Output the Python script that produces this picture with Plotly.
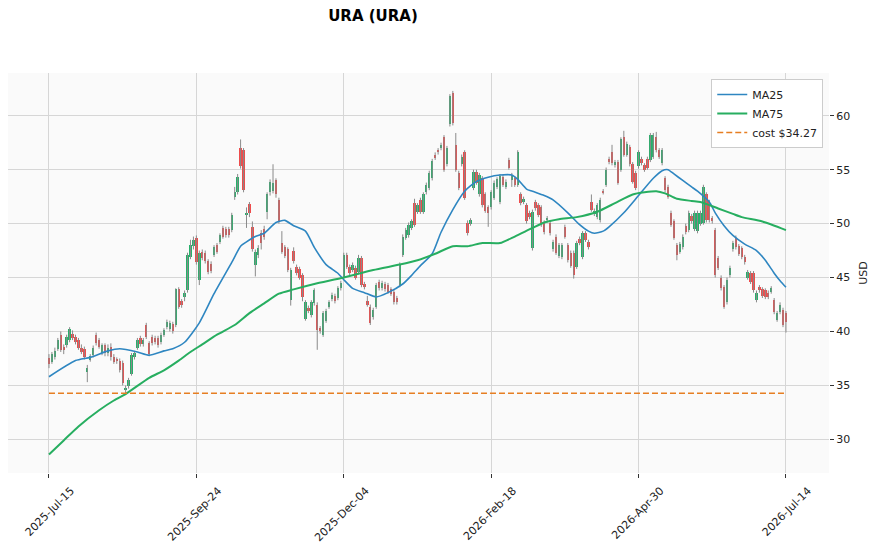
import plotly.graph_objects as go

# ---------------- data ----------------
tick_pos = [0, 50, 100, 150, 200, 250]
tick_labels = ["2025-Jul-15", "2025-Sep-24", "2025-Dec-04", "2026-Feb-18", "2026-Apr-30", "2026-Jul-14"]

opens = [37.5, 37.2, 37.6, 38.4, 39.7, 38.6, 38.7, 39.2, 39.8, 39.5,
         39.2, 38.5, 38.4, 36.2, 37.4, 37.8, 39.7, 39.2, 38.0, 38.7,
         38.0, 38.6, 37.6, 37.4, 37.3, 37.1, 34.6, 34.9, 36.1, 37.6,
         38.5, 39.4, 38.8, 40.6, 38.9, 39.5, 39.4, 39.4, 39.0, 39.7,
         40.4, 40.2, 40.7, 40.6, 43.9, 42.8, 43.2, 43.8, 46.9, 47.9,
         48.7, 44.8, 47.4, 47.3, 46.5, 46.3, 47.1, 48.0, 48.3, 49.6,
         49.5, 49.5, 49.4, 52.5, 52.9, 57.0, 56.8, 50.8, 51.8, 49.7,
         46.2, 47.1, 49.1, 49.5, 51.1, 52.9, 53.0, 54.0, 52.2, 48.2,
         47.8, 47.6, 42.9, 47.5, 46.0, 45.8, 45.2, 41.2, 42.2, 41.5,
         42.6, 42.5, 40.3, 39.7, 41.0, 42.3, 43.0, 43.3, 43.1, 44.0,
         45.0, 47.1, 46.0, 45.7, 45.9, 45.5, 46.8, 44.4, 42.8, 42.3,
         41.3, 42.3, 44.6, 44.0, 44.4, 44.3, 43.9, 43.7, 43.1, 44.3,
         47.1, 48.7, 48.9, 49.6, 51.9, 51.1, 52.2, 51.1, 52.9, 53.3,
         54.2, 56.4, 56.8, 57.0, 58.0, 55.5, 59.2, 62.1, 57.3, 54.7,
         55.5, 56.6, 50.1, 50.0, 53.3, 54.8, 52.7, 54.2, 52.7, 51.5,
         51.5, 52.4, 53.4, 52.0, 54.3, 53.4, 55.9, 54.0, 54.2, 53.6,
         52.7, 52.0, 51.7, 51.0, 47.7, 52.0, 51.7, 51.5, 50.1, 50.3,
         50.1, 47.6, 48.8, 47.0, 46.9, 49.7, 48.0, 47.3, 47.3, 46.0,
         48.6, 46.9, 49.1, 48.3, 52.0, 50.9, 50.6, 50.3, 53.0, 53.6,
         56.0, 56.6, 55.4, 55.7, 55.0, 58.0, 56.4, 57.1, 55.5, 54.7,
         55.3, 56.0, 55.4, 56.0, 55.9, 56.2, 58.0, 56.8, 55.6, 54.2,
         53.4, 51.0, 50.2, 48.0, 47.4, 47.8, 49.8, 49.4, 50.7, 49.5,
         49.3, 50.0, 50.1, 52.7, 52.0, 50.5, 49.4, 46.8, 45.0, 44.1,
         42.7, 45.2, 47.6, 48.7, 47.9, 47.7, 46.9, 45.0, 45.4, 45.4,
         42.9, 44.1, 43.9, 43.8, 43.6, 43.7, 42.9, 41.1, 41.8, 42.0,
         41.7]

closes = [37.0, 37.9, 38.2, 39.2, 38.3, 38.3, 39.5, 40.2, 39.4, 39.0,
          38.5, 38.1, 37.6, 36.6, 37.7, 38.5, 38.9, 38.6, 38.7, 38.0,
          38.5, 37.6, 37.2, 37.3, 36.4, 35.2, 34.8, 35.5, 37.8, 38.0,
          39.2, 38.8, 39.2, 39.5, 37.9, 38.9, 39.0, 38.7, 39.7, 40.1,
          40.9, 40.8, 40.0, 43.9, 42.3, 42.5, 43.6, 47.1, 48.0, 48.5,
          46.4, 47.3, 46.8, 46.5, 45.5, 45.6, 47.8, 47.4, 48.9, 48.8,
          48.9, 48.9, 50.8, 52.9, 54.3, 55.3, 53.1, 51.0, 51.0, 47.6,
          47.4, 47.7, 48.2, 48.8, 52.7, 53.9, 53.8, 52.7, 50.2, 47.4,
          47.0, 45.7, 45.7, 46.5, 45.4, 45.0, 43.2, 42.7, 41.9, 42.7,
          43.8, 40.1, 40.0, 41.7, 41.9, 42.7, 43.4, 42.8, 44.0, 44.5,
          47.1, 46.0, 45.4, 46.2, 45.0, 46.8, 44.3, 44.1, 42.5, 40.8,
          42.0, 44.3, 44.0, 44.5, 43.9, 43.7, 43.5, 42.7, 42.7, 46.2,
          48.8, 49.4, 49.9, 50.2, 49.9, 51.7, 51.1, 52.7, 53.6, 54.7,
          55.8, 56.1, 56.6, 57.3, 55.0, 57.0, 61.8, 59.3, 55.0, 53.3,
          56.2, 52.4, 49.1, 50.3, 54.8, 53.8, 54.5, 51.7, 51.2, 51.0,
          52.9, 53.8, 54.1, 54.4, 53.6, 53.9, 55.2, 54.5, 53.6, 56.6,
          51.9, 52.3, 50.2, 50.6, 51.1, 51.4, 50.8, 50.1, 49.2, 50.5,
          49.1, 48.3, 47.3, 48.0, 48.0, 48.8, 46.6, 46.1, 45.2, 48.2,
          48.2, 49.1, 48.5, 47.8, 51.3, 51.2, 51.7, 52.2, 52.9, 55.0,
          55.7, 55.6, 55.7, 53.8, 57.8, 56.4, 57.4, 55.5, 53.9, 53.3,
          56.6, 55.6, 55.0, 55.2, 58.2, 58.2, 56.8, 56.2, 56.8, 53.1,
          52.5, 49.9, 48.7, 47.1, 48.1, 48.8, 49.2, 51.0, 50.2, 51.0,
          51.0, 51.0, 53.4, 50.3, 50.3, 50.2, 45.2, 45.9, 44.0, 42.3,
          44.8, 45.9, 48.2, 47.8, 47.2, 46.9, 46.4, 45.5, 44.6, 43.8,
          43.6, 43.8, 43.3, 43.2, 43.2, 44.0, 41.8, 41.7, 42.5, 40.6,
          40.9]

highs = [37.9, 38.1, 38.5, 39.4, 40.0, 38.8, 39.7, 40.4, 40.1, 39.7,
         39.4, 38.8, 38.6, 36.9, 37.9, 38.7, 39.9, 39.4, 38.9, 38.9,
         38.8, 38.9, 37.9, 37.6, 37.5, 37.3, 35.0, 35.7, 38.0, 38.2,
         39.4, 39.6, 39.4, 40.8, 39.1, 39.7, 39.6, 39.6, 39.9, 40.3,
         41.1, 41.0, 40.9, 44.0, 44.1, 43.0, 43.8, 47.3, 48.5, 48.8,
         48.9, 47.5, 47.6, 47.5, 46.7, 46.5, 48.0, 48.2, 49.1, 49.8,
         49.7, 49.7, 51.0, 53.4, 54.6, 57.8, 57.0, 51.5, 52.0, 50.2,
         47.6, 48.0, 49.4, 49.8, 52.9, 54.1, 55.5, 54.2, 52.4, 49.3,
         48.0, 47.8, 45.9, 47.8, 46.2, 46.0, 45.4, 42.9, 42.4, 42.9,
         44.0, 42.7, 40.5, 41.9, 42.1, 42.9, 43.6, 43.5, 44.2, 44.7,
         47.3, 47.3, 46.2, 46.4, 46.1, 47.1, 47.0, 44.6, 43.3, 42.5,
         42.2, 44.5, 44.8, 44.7, 44.6, 44.5, 44.1, 43.9, 43.3, 46.4,
         49.0, 49.6, 50.1, 50.4, 52.3, 51.9, 52.4, 52.9, 53.8, 54.9,
         56.0, 56.6, 57.0, 57.5, 58.2, 57.2, 62.0, 62.3, 58.4, 54.9,
         56.4, 56.8, 50.3, 50.5, 55.0, 55.0, 54.7, 54.4, 52.9, 51.7,
         53.1, 54.0, 54.3, 54.6, 54.5, 54.1, 56.1, 54.7, 54.4, 56.8,
         52.9, 52.5, 51.9, 51.2, 51.3, 52.2, 51.9, 51.7, 50.3, 50.7,
         50.3, 48.5, 49.0, 48.2, 48.2, 49.9, 48.2, 47.5, 47.5, 48.4,
         48.8, 49.3, 49.3, 48.5, 52.7, 51.4, 51.9, 52.4, 53.2, 55.2,
         56.2, 57.3, 55.9, 55.9, 58.0, 58.6, 57.6, 57.3, 55.7, 54.9,
         56.8, 56.2, 55.6, 56.2, 58.4, 58.4, 58.5, 57.0, 57.0, 54.4,
         53.6, 51.2, 50.4, 48.2, 48.3, 49.0, 50.0, 51.2, 50.9, 51.2,
         51.2, 51.2, 53.6, 52.9, 52.2, 50.7, 49.6, 47.0, 45.2, 44.3,
         45.0, 46.1, 48.4, 48.9, 48.1, 47.9, 47.1, 45.7, 45.6, 45.6,
         43.8, 44.3, 44.1, 44.0, 43.8, 44.2, 43.1, 41.9, 42.7, 42.2,
         41.9]

lows = [36.6, 37.0, 37.4, 38.2, 38.1, 37.9, 38.5, 39.0, 39.2, 38.8,
        38.3, 37.9, 37.4, 35.3, 37.2, 37.6, 38.7, 38.4, 37.8, 37.7,
        37.7, 37.3, 37.0, 37.0, 36.2, 35.0, 34.2, 34.7, 35.9, 37.4,
        38.3, 38.6, 38.6, 39.3, 37.7, 38.7, 38.8, 38.5, 38.8, 39.5,
        40.2, 40.0, 39.8, 40.4, 42.1, 42.2, 42.8, 43.6, 46.7, 47.6,
        46.2, 44.3, 46.6, 46.3, 45.3, 45.4, 46.9, 47.2, 48.1, 48.6,
        48.7, 48.7, 49.2, 52.2, 52.7, 55.1, 52.9, 49.6, 50.6, 47.4,
        45.1, 46.8, 47.6, 48.5, 50.4, 52.6, 52.8, 52.4, 50.0, 47.2,
        46.8, 45.5, 42.4, 46.3, 45.2, 44.8, 42.8, 41.0, 41.7, 41.3,
        42.4, 38.3, 39.8, 39.5, 40.8, 42.1, 42.8, 42.6, 42.9, 43.8,
        44.8, 45.8, 45.2, 45.5, 44.8, 45.3, 44.1, 43.9, 42.3, 40.6,
        41.1, 42.1, 43.8, 43.8, 43.7, 43.5, 43.3, 42.5, 42.5, 44.1,
        46.9, 48.5, 48.7, 49.4, 49.7, 50.9, 50.9, 50.9, 52.7, 53.1,
        54.0, 55.9, 56.4, 56.8, 54.8, 55.3, 59.0, 59.1, 54.8, 53.1,
        55.3, 52.2, 48.9, 49.8, 53.1, 53.6, 52.5, 51.5, 51.0, 49.7,
        51.3, 52.2, 53.2, 51.8, 53.4, 53.2, 55.0, 53.4, 53.4, 53.4,
        51.7, 51.8, 50.0, 50.4, 47.5, 51.2, 50.6, 49.7, 49.0, 50.1,
        48.9, 47.4, 47.1, 46.8, 46.7, 48.6, 46.4, 45.9, 44.9, 45.8,
        48.0, 46.7, 48.3, 47.6, 51.1, 50.7, 50.4, 50.1, 52.7, 53.4,
        55.5, 55.4, 55.2, 53.6, 54.8, 56.2, 56.2, 55.3, 53.7, 53.1,
        55.1, 55.4, 54.8, 55.0, 55.7, 56.0, 56.6, 56.0, 55.4, 52.9,
        52.3, 49.7, 48.5, 46.6, 47.2, 47.6, 49.0, 49.2, 50.0, 49.3,
        49.1, 49.8, 49.9, 50.1, 50.1, 50.0, 45.0, 45.7, 43.8, 42.1,
        42.5, 45.0, 47.4, 47.6, 47.0, 46.7, 46.2, 44.8, 44.4, 43.6,
        42.7, 43.6, 43.1, 43.0, 43.0, 43.5, 41.6, 40.9, 41.6, 40.4,
        39.9]

ma_x25 = [0, 9, 14, 20, 24, 30, 34, 39, 42, 46, 51, 56, 62, 65, 67, 70, 73, 77,
          80, 83, 87, 90, 94, 98, 100, 103, 107, 111, 115, 120, 123, 126, 130,
          133, 137, 141, 145, 149, 153, 157, 159, 162, 164, 168, 171, 176, 180,
          183, 185, 188, 190, 195, 200, 205, 208, 210, 212, 215, 218, 220, 224,
          226, 229, 232, 236, 240, 243, 246, 248, 250]
ma25 = [35.8, 37.3, 37.6, 38.2, 38.4, 38.1, 37.8, 38.2, 38.4, 39.0, 40.8, 43.5,
        46.4, 47.9, 48.3, 48.8, 49.1, 50.1, 50.3, 49.8, 49.3, 47.8, 46.2, 45.4,
        44.8, 44.0, 43.6, 43.2, 43.6, 44.4, 45.2, 46.1, 47.2, 49.2, 51.3, 53.0,
        53.9, 54.3, 54.5, 54.5, 54.1, 53.2, 53.0, 52.6, 52.2, 51.0, 49.9, 49.3,
        49.1, 49.3, 49.7, 51.0, 52.6, 54.2, 54.9, 55.0, 54.6, 54.0, 53.4, 53.0,
        52.0, 51.0, 49.8, 48.9, 48.1, 47.5, 46.6, 45.4, 44.7, 44.1]

ma_x75 = [0, 5, 10, 17, 22, 26, 34, 39, 44, 48, 52, 57, 63, 68, 73, 78, 83, 90,
          100, 110, 119, 125, 131, 137, 142, 147, 153, 158, 164, 168, 173, 179,
          186, 192, 198, 202, 206, 209, 213, 218, 221, 227, 232, 235, 242, 250]
ma75 = [28.6, 29.9, 31.2, 32.7, 33.6, 34.2, 35.7, 36.4, 37.3, 38.1, 38.8, 39.7,
        40.6, 41.7, 42.6, 43.5, 43.9, 44.4, 45.0, 45.7, 46.2, 46.6, 47.2, 47.9,
        47.9, 48.2, 48.2, 48.8, 49.6, 50.1, 50.4, 50.6, 51.1, 51.9, 52.7, 52.9,
        53.0, 52.8, 52.3, 52.1, 52.0, 51.4, 50.9, 50.6, 50.2, 49.4]

cost = 34.27

# ---------------- styles ----------------
UP = "#26b06a"
DOWN = "#ee4c4c"
WICK = "#8a8a8a"
FONT = "DejaVu Sans, Verdana, sans-serif"

idx = list(range(len(closes)))

# wicks
wx, wy = [], []
for i, h, l in zip(idx, highs, lows):
    wx += [i, i, None]
    wy += [l, h, None]

body_base = [min(o, c) for o, c in zip(opens, closes)]
body_h = [max(abs(c - o), 0.05) for o, c in zip(opens, closes)]
body_col = [UP if c >= o else DOWN for o, c in zip(opens, closes)]

fig = go.Figure()
fig.add_trace(go.Scatter(x=wx, y=wy, mode="lines", line=dict(color=WICK, width=1),
                         showlegend=False, hoverinfo="skip"))
fig.add_trace(go.Bar(x=idx, y=body_h, base=body_base, marker=dict(color=body_col, line=dict(width=0)),
                     width=0.8, showlegend=False))
fig.add_trace(go.Scatter(x=ma_x25, y=ma25, mode="lines", name="MA25",
                         line=dict(color="#2e86c1", width=1.6, shape="spline", smoothing=0.6)))
fig.add_trace(go.Scatter(x=ma_x75, y=ma75, mode="lines", name="MA75",
                         line=dict(color="#27ae60", width=2, shape="spline", smoothing=0.6)))
fig.add_trace(go.Scatter(x=[idx[0], idx[-1]], y=[cost, cost], mode="lines", name=f"cost ${cost:.2f}",
                         line=dict(color="#e67e22", width=1.6, dash="6px,3px")))

fig.update_layout(
    width=875, height=548,
    margin=dict(l=8, r=46, t=73, b=75, autoexpand=False),
    paper_bgcolor="white",
    plot_bgcolor="#fafafa",
    font=dict(family=FONT, size=11, color="#222"),
    title=dict(text="<b>URA (URA)</b>", x=373 / 875, xanchor="center", y=1 - 16 / 548, yanchor="middle",
               font=dict(family=FONT, size=15, color="black")),
    legend=dict(x=0.993, y=0.985, xanchor="right", yanchor="top", bgcolor="white",
                bordercolor="#cccccc", borderwidth=1, font=dict(size=11), tracegroupgap=0,
                itemwidth=30),
    bargap=0,
)
fig.update_xaxes(range=[-13.9, 264.6], tickmode="array", tickvals=tick_pos, ticktext=tick_labels,
                 tickangle=-45, showgrid=True, gridcolor="#d6d6d6", gridwidth=1, zeroline=False,
                 ticks="outside", ticklen=4, tickcolor="#333", showline=False, automargin=False,
                 ticklabelshift=22, ticklabelstandoff=2)
fig.update_yaxes(range=[26.88, 63.96], side="right", tickmode="array", tickvals=[30, 35, 40, 45, 50, 55, 60],
                 showgrid=True, gridcolor="#d6d6d6", gridwidth=1, zeroline=False,
                 ticks="outside", ticklen=4, tickcolor="#333", showline=False, automargin=False,
                 title=dict(text="USD", standoff=10, font=dict(size=11)))

fig.write_html("out.html")
